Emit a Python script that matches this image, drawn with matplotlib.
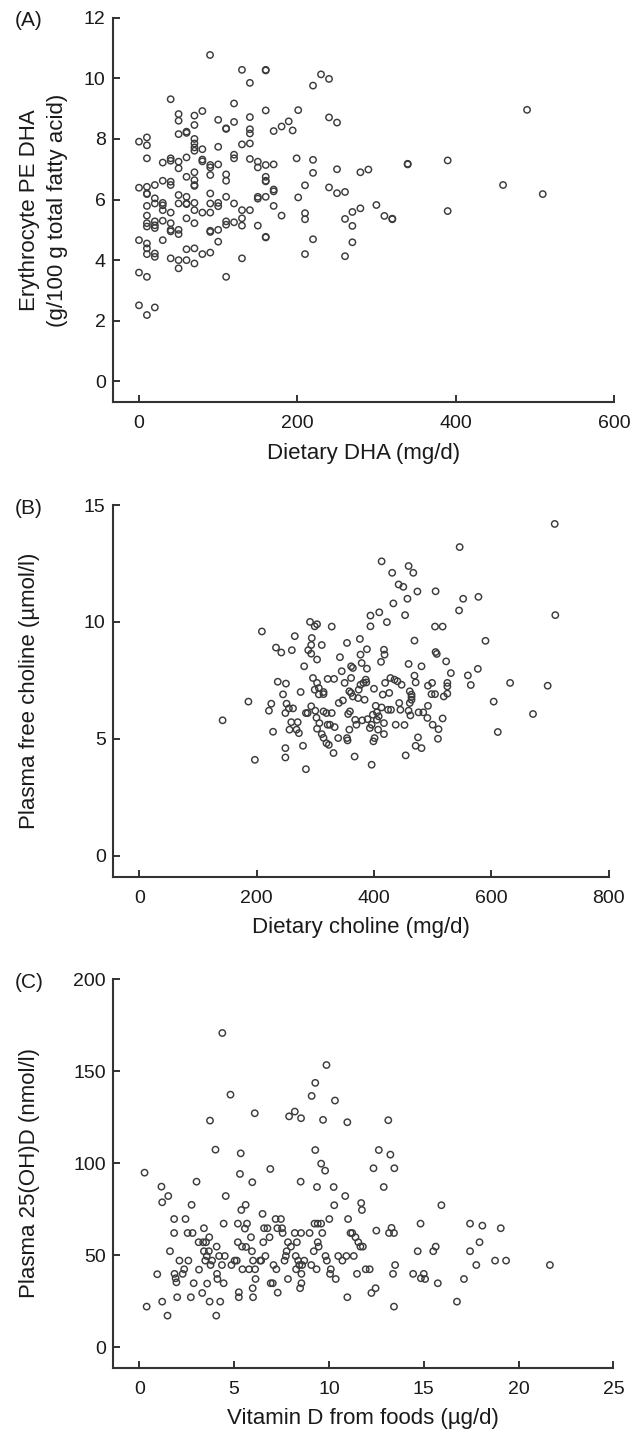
import matplotlib
matplotlib.use("Agg")
import matplotlib.pyplot as plt

plt.rcParams['font.family'] = ['Liberation Sans', 'DejaVu Sans']

# (A) dietary DHA (mg/d) vs erythrocyte PE DHA (g/100 g total fatty acid)
dha_x = [89.7, 130, 160, 160, 140, 219.7, 229.8, 239.9, 40, 120, 50, 70, 80, 50, 100, 120, 140, 160, 201,
         70, 110, 110, 140, 140, 170, 180, 189, 194, 50, 60, 60, 70, 70, 70, 70, 80, 0, 10, 10, 10,
         100, 130, 140, 120, 120, 30, 40, 40, 50, 60, 80, 80, 90, 90, 100, 140, 150, 160, 170, 150,
         50, 60, 70, 70, 90, 110, 110, 160, 160, 160, 170, 170, 199, 219.7, 219.7, 209.6, 30, 40, 40, 0,
         10, 20, 10, 10, 70, 70, 90, 50, 60, 110, 120, 150, 150, 160, 170, 180, 201, 10, 20, 20,
         30, 30, 30, 40, 50, 60, 60, 70, 90, 100, 100, 90, 80, 70, 130, 140, 130, 120, 10, 10,
         10, 20, 20, 20, 30, 40, 40, 40, 50, 50, 60, 70, 90, 90, 100, 110, 110, 130, 150, 160,
         160, 209.6, 209.6, 219.7, 0, 10, 10, 10, 20, 20, 30, 40, 50, 50, 60, 70, 60, 70, 80, 90,
         100, 130, 209.6, 0, 10, 110, 0, 10, 20, 239.9, 250, 489.9, 250, 279.5, 289.6, 339.2, 339.2, 389.7,
         239.9, 250, 260.1, 459.6, 509.7, 299.7, 279.5, 269.4, 260.1, 269.4, 309.8, 319.8, 319.8, 389.7, 269.4, 260.1]
dha_y = [10.77, 10.28, 10.28, 10.26, 9.85, 9.76, 10.13, 9.98, 9.31, 9.17, 8.82, 8.77, 8.92, 8.60, 8.63, 8.56, 8.72, 8.94, 8.95,
         8.46, 8.35, 8.33, 8.32, 8.18, 8.26, 8.41, 8.58, 8.28, 8.16, 8.24, 8.20, 8.0, 7.85, 7.72, 7.61, 7.66, 7.91, 8.05, 7.79, 7.36,
         7.74, 7.82, 7.85, 7.48, 7.36, 7.22, 7.36, 7.28, 7.25, 7.39, 7.32, 7.26, 7.14, 7.06, 7.16, 7.34, 7.25, 7.14, 7.16, 7.06,
         7.03, 6.75, 6.90, 6.64, 6.81, 6.83, 6.62, 6.75, 6.62, 6.60, 6.33, 6.27, 7.36, 7.31, 6.88, 6.47, 6.62, 6.59, 6.48, 6.39,
         6.42, 6.48, 6.20, 6.18, 6.48, 6.45, 6.20, 6.15, 6.09, 6.09, 5.87, 6.09, 6.03, 6.09, 5.79, 5.47, 6.07, 5.79, 6.04, 5.87,
         5.89, 5.81, 5.65, 5.57, 5.87, 5.87, 5.85, 5.89, 5.87, 5.89, 5.78, 5.57, 5.57, 5.65, 5.65, 5.65, 5.38, 5.25, 5.47, 5.22,
         5.11, 5.28, 5.06, 5.15, 5.30, 5.22, 5.0, 4.95, 5.0, 4.86, 5.38, 5.22, 4.97, 4.93, 5.0, 5.28, 5.17, 5.14, 5.14, 4.77,
         4.75, 5.55, 5.35, 4.69, 4.66, 4.55, 4.39, 4.2, 4.22, 4.11, 4.66, 4.06, 4.0, 3.73, 4.0, 3.89, 4.36, 4.39, 4.20, 4.25,
         4.61, 4.06, 4.2, 3.59, 3.45, 3.45, 2.51, 2.19, 2.44, 8.71, 8.54, 8.96, 7.0, 6.9, 6.99, 7.16, 7.18, 7.29,
         6.40, 6.21, 6.25, 6.48, 6.18, 5.82, 5.71, 5.59, 5.36, 5.13, 5.46, 5.35, 5.37, 5.62, 4.59, 4.13]

# (B) dietary choline (mg/d) vs plasma free choline (umol/l)
choline_x = [142, 186, 197, 209, 221, 225, 228, 233, 236, 242, 245, 250, 249, 249, 249, 251, 255, 262, 256, 259,
             260, 265, 270, 268, 272, 275, 279, 281, 284, 284, 288, 287, 291, 293, 294, 299, 303, 293, 303, 296,
             299, 303, 306, 306, 314, 314, 293, 300, 302, 303, 307, 311, 314, 319, 323, 311, 314, 319, 321, 325,
             328, 328, 321, 332, 333, 331, 339, 340, 342, 345, 347, 350, 354, 355, 354, 356, 359, 361, 361, 358,
             361, 364, 364, 358, 367, 368, 370, 373, 374, 376, 377, 377, 379, 380, 382, 384, 388, 388, 387, 386,
             389, 393, 394, 394, 396, 396, 398, 399, 401, 400, 403, 405, 405, 407, 408, 409, 412, 413, 415, 417,
             417, 417, 418, 419, 413, 422, 424, 426, 428, 429, 431, 433, 435, 437, 440, 442, 443, 445, 447, 450,
             452, 454, 453, 457, 459, 459, 461, 461, 459, 462, 464, 464, 464, 467, 469, 469, 471, 471, 474, 475,
             476, 481, 481, 484, 491, 492, 492, 499, 498, 500, 505, 504, 505, 507, 504, 509, 510, 517, 517, 519,
             523, 525, 525, 525, 531, 545, 546, 552, 560, 565, 577, 578, 590, 604, 611, 632, 671, 696, 708, 709]
choline_y = [5.79, 6.59, 4.1, 9.59, 6.2, 6.5, 5.3, 8.9, 7.44, 8.69, 6.9, 7.36, 4.6, 4.2, 6.1, 6.5, 6.3, 6.3, 5.39, 5.71,
             8.79, 9.39, 5.71, 5.39, 5.24, 7.0, 4.7, 8.1, 3.7, 6.1, 8.79, 6.1, 10.0, 9.01, 9.31, 9.81, 9.9, 8.64, 8.39, 7.6,
             7.1, 7.39, 7.17, 6.9, 6.91, 7.0, 6.39, 6.2, 5.9, 5.43, 5.67, 5.2, 5.04, 4.81, 4.74, 9.01, 6.17, 6.1, 5.6, 5.6,
             6.1, 9.8, 7.56, 7.56, 5.5, 4.39, 5.03, 6.53, 8.49, 7.89, 6.64, 7.39, 5.03, 4.93, 9.1, 6.06, 6.17, 8.1, 7.6, 7.03,
             6.96, 6.81, 8.03, 5.39, 4.24, 5.81, 5.6, 6.74, 7.1, 9.27, 7.31, 8.6, 8.24, 5.79, 7.39, 6.67, 8.83, 8.0, 7.41, 7.53,
             5.84, 5.46, 9.81, 10.27, 3.89, 5.6, 6.03, 4.89, 5.03, 7.14, 6.41, 6.13, 5.81, 5.39, 5.96, 10.41, 8.29, 6.34, 6.89, 5.67,
             5.2, 8.81, 8.6, 7.39, 12.59, 9.99, 6.24, 6.96, 7.6, 6.24, 12.1, 10.79, 7.53, 5.6, 7.46, 11.6, 6.53, 6.24, 7.31, 11.5,
             5.59, 4.29, 10.29, 10.99, 12.39, 8.2, 7.03, 6.53, 6.2, 6.0, 6.89, 6.79, 6.67, 12.1, 9.2, 7.7, 7.41, 4.7, 11.3, 5.06,
             6.13, 8.1, 4.6, 6.13, 5.89, 6.41, 7.27, 7.39, 6.91, 5.6, 11.31, 9.8, 8.71, 8.63, 6.91, 5.0, 5.41, 9.8, 5.87, 6.81,
             8.31, 7.39, 7.24, 6.93, 7.81, 10.49, 13.2, 10.99, 7.71, 7.3, 7.99, 11.07, 9.19, 6.59, 5.29, 7.39, 6.06, 7.27, 14.19, 10.29]

# (C) vitamin D from foods (ug/d) vs plasma 25(OH)D (nmol/l)
vitd_x = [0.28, 0.39, 0.95, 1.17, 1.21, 1.21, 1.49, 1.53, 1.62, 1.84, 1.84, 1.86, 1.92, 1.96, 2.0, 2.12, 2.29, 2.37, 2.44, 2.55,
          2.59, 2.72, 2.76, 2.81, 2.87, 3.02, 3.13, 3.15, 3.32, 3.37, 3.41, 3.41, 3.48, 3.52, 3.56, 3.58, 3.67, 3.69, 3.71, 3.73,
          3.76, 3.84, 4.02, 4.06, 4.08, 4.1, 4.12, 4.21, 4.27, 4.36, 4.38, 4.45, 4.45, 4.51, 4.56, 4.81, 4.86, 5.03, 5.14, 5.2,
          5.2, 5.25, 5.25, 5.31, 5.35, 5.38, 5.42, 5.44, 5.57, 5.61, 5.63, 5.68, 5.79, 5.89, 5.94, 5.96, 5.98, 6.0, 6.0, 6.09,
          6.11, 6.13, 6.37, 6.43, 6.5, 6.54, 6.58, 6.65, 6.76, 6.87, 6.91, 6.93, 7.04, 7.08, 7.19, 7.23, 7.28, 7.3, 7.47, 7.53,
          7.56, 7.66, 7.73, 7.77, 7.84, 7.84, 7.9, 8.0, 8.2, 8.2, 8.25, 8.27, 8.31, 8.38, 8.44, 8.51, 8.53, 8.53, 8.55, 8.55,
          8.48, 8.59, 8.7, 8.98, 9.07, 9.09, 9.2, 9.24, 9.28, 9.28, 9.35, 9.37, 9.41, 9.41, 9.46, 9.59, 9.59, 9.65, 9.69, 9.8,
          9.82, 9.87, 9.89, 10.02, 10.06, 10.1, 10.25, 10.28, 10.32, 10.36, 10.49, 10.71, 10.86, 10.92, 10.97, 10.97, 11.01, 11.14, 11.23, 11.31,
          11.4, 11.48, 11.55, 11.66, 11.7, 11.74, 11.79, 11.94, 12.15, 12.24, 12.35, 12.46, 12.5, 12.63, 12.89, 13.13, 13.17, 13.24, 13.3, 13.38,
          13.43, 13.43, 13.45, 13.49, 14.44, 14.68, 14.83, 14.85, 15.0, 15.07, 15.5, 15.63, 15.74, 15.93, 16.75, 17.12, 17.44, 17.44, 17.77, 17.94,
          18.09, 18.76, 19.06, 19.34, 21.65]
vitd_y = [94.9, 22.1, 39.7, 87.3, 78.8, 24.8, 17.2, 82.2, 52.2, 69.7, 62.1, 39.9, 37.5, 35.3, 27.2, 47.1, 39.9, 42.4, 69.7, 62.1,
          47.1, 27.2, 77.4, 62.1, 34.8, 90.0, 57.1, 42.2, 29.5, 57.1, 64.7, 52.2, 47.1, 57.1, 49.6, 34.6, 52.2, 59.8, 24.8, 123.2,
          44.7, 47.1, 107.4, 17.2, 54.7, 39.9, 37.1, 49.6, 24.8, 44.7, 170.8, 34.8, 67.2, 49.6, 82.2, 137.3, 44.7, 47.1, 47.1, 67.2,
          57.1, 29.9, 27.2, 94.2, 105.4, 74.6, 54.7, 42.4, 64.5, 77.4, 54.5, 67.2, 42.4, 59.8, 52.2, 89.7, 32.1, 27.2, 47.1, 127.2,
          42.4, 37.1, 47.1, 47.1, 72.5, 57.1, 64.7, 49.6, 64.7, 59.8, 96.9, 34.8, 34.8, 44.7, 69.7, 42.4, 64.7, 29.7, 69.7, 64.7,
          62.1, 47.1, 49.6, 52.2, 37.1, 57.1, 125.5, 54.7, 128.1, 62.1, 49.6, 42.4, 57.1, 47.1, 44.7, 90.0, 124.5, 62.1, 39.9, 34.8,
          32.1, 44.7, 47.1, 62.1, 44.7, 136.6, 52.2, 67.2, 143.7, 107.2, 42.4, 87.1, 67.2, 57.1, 54.7, 99.8, 67.2, 62.1, 123.6, 96.0,
          49.6, 153.4, 47.1, 69.7, 39.9, 42.4, 87.1, 77.2, 134.1, 37.1, 49.6, 47.1, 82.2, 49.6, 27.2, 122.3, 69.7, 62.1, 62.1, 49.6,
          59.8, 39.9, 57.1, 54.7, 78.4, 74.6, 54.7, 42.4, 42.4, 29.5, 97.3, 32.1, 63.4, 107.2, 87.1, 123.4, 62.1, 104.7, 64.9, 39.9,
          62.1, 22.1, 97.3, 44.7, 39.9, 52.2, 67.2, 37.5, 39.9, 37.1, 52.2, 54.7, 34.8, 77.2, 24.8, 37.1, 52.2, 67.2, 44.7, 57.1,
          66.1, 47.1, 64.7, 47.1, 44.7]

panels = [
    dict(tag='(A)', x=dha_x, y=dha_y, pos=[0.1758, 0.72004, 0.7825, 0.26764],
         xlim=(-33.2, 600), ylim=(-0.69, 12), xticks=[0, 200, 400, 600], yticks=[0, 2, 4, 6, 8, 10, 12],
         xlabel='Dietary DHA (mg/d)', ylabel=['Erythrocyte PE DHA', '(g/100 g total fatty acid)']),
    dict(tag='(B)', x=choline_x, y=choline_y, pos=[0.1758, 0.38991, 0.7738, 0.25866],
         xlim=(-45.3, 800), ylim=(-0.9, 15), xticks=[0, 200, 400, 600, 800], yticks=[0, 5, 10, 15],
         xlabel='Dietary choline (mg/d)', ylabel=['Plasma free choline (\u00b5mol/l)']),
    dict(tag='(C)', x=vitd_x, y=vitd_y, pos=[0.1758, 0.04823, 0.7812, 0.27029],
         xlim=(-1.4, 25), ylim=(-11.1, 200), xticks=[0, 5, 10, 15, 20, 25], yticks=[0, 50, 100, 150, 200],
         xlabel='Vitamin D from foods (\u00b5g/d)', ylabel=['Plasma 25(OH)D (nmol/l)']),
]

W, H = 641, 1437
fig = plt.figure(figsize=(W / 100, H / 100), dpi=100)
tick_fs = 14
lab_fs = 16
ink = '#1a1a1a'

for p in panels:
    ax = fig.add_axes(p['pos'])
    ax.scatter(p['x'], p['y'], s=21, facecolors='none', edgecolors='#3c3c3c', linewidths=1.05)
    ax.set_xlim(*p['xlim'])
    ax.set_ylim(*p['ylim'])
    ax.set_xticks(p['xticks'])
    ax.set_yticks(p['yticks'])
    for s in ['top', 'right']:
        ax.spines[s].set_visible(False)
    for s in ['left', 'bottom']:
        ax.spines[s].set_linewidth(1.5)
        ax.spines[s].set_color('#333333')
    ax.tick_params(axis='both', direction='in', length=5.3, width=1.4, color='#333333',
                   labelsize=tick_fs, labelcolor=ink)
    ax.tick_params(axis='x', pad=9.5)
    ax.tick_params(axis='y', pad=5)
    ax.set_xlabel(p['xlabel'], fontsize=lab_fs, color=ink, labelpad=7.5)

    x0, y0, w, h = p['pos']
    fig.text(15 / W, y0 + h - 3 / H, p['tag'], fontsize=15, color=ink, ha='left', va='center')
    yc = y0 + h / 2
    if len(p['ylabel']) == 2:
        fig.text(30 / W, yc, p['ylabel'][0], rotation=90, fontsize=lab_fs, color=ink, ha='center', va='center')
        fig.text(57 / W, yc, p['ylabel'][1], rotation=90, fontsize=lab_fs, color=ink, ha='center', va='center')
    else:
        fig.text(30 / W, yc, p['ylabel'][0], rotation=90, fontsize=lab_fs, color=ink, ha='center', va='center')

fig.savefig('out.png', dpi=100)
